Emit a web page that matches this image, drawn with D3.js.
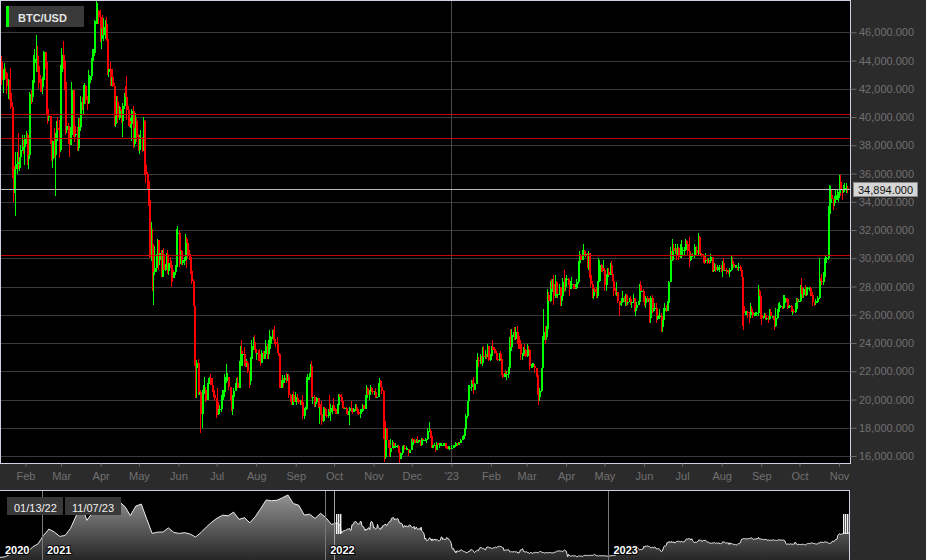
<!DOCTYPE html>
<html>
<head>
<meta charset="utf-8">
<script src="https://cdnjs.cloudflare.com/ajax/libs/d3/7.8.5/d3.min.js"></script>
<style>
	body { margin: 0; background: #2b2b2b; }
	svg { display: block; font-family: "Liberation Sans", Arial, sans-serif; }
</style>
</head>
<body>
<svg id="chart"></svg>
<script>
// daily BTC/USD, in thousands, from 2022-01-13 to 2023-11-07 (open = previous close)
const START_DAY = new Date(2022, 0, 13),
	FIRST_OPEN = 43.9;

const closeK = [
	42.6, 43.1, 43.2, 43.1, 42.2, 42.4, 41.7, 40.7, 36.5, 35.1, 36.3, 36.7, 37.0, 36.8, 37.2, 37.7, 38.2, 37.9, 38.5,
	38.7, 37.0, 37.3, 41.6, 41.4, 42.4, 43.8, 44.1, 44.3, 43.6, 42.4, 42.2, 42.1, 42.6, 44.6, 43.9, 40.6, 40.0, 40.1, 38.4, 37.0, 38.3, 37.3, 38.3, 39.2, 39.1, 37.7, 43.2,
	44.4, 44.0, 42.5, 39.1, 39.4, 38.4, 38.0, 38.7, 41.9, 39.4, 38.7, 38.8, 37.8, 39.7, 39.3, 41.1, 40.9, 41.8, 42.2, 41.2, 41.0, 42.4, 42.9, 44.0, 44.3, 44.5, 46.8, 47.1, 47.5, 47.1, 45.5,
	46.3, 45.8, 46.4, 46.6, 45.5, 43.2, 43.4, 42.3, 42.8, 42.2, 39.5, 40.1, 41.1, 39.9, 40.6, 40.4, 39.7, 40.8, 41.5, 41.4, 40.5, 39.7, 39.5, 39.5, 40.4, 38.1, 39.2, 39.7, 38.6, 37.7,
	38.5, 38.5, 37.7, 39.7, 36.6, 36.0, 35.5, 34.1, 30.1, 31.0, 29.0, 29.0, 29.3, 30.1, 31.3, 29.9, 30.4, 28.7, 30.3, 29.2, 29.4, 30.3, 29.1, 29.7, 29.5, 29.2, 28.6, 29.0, 29.4, 31.7, 31.8,
	29.8, 30.5, 29.7, 29.9, 29.9, 31.4, 31.1, 30.2, 30.1, 29.1, 28.4, 26.6, 22.5, 22.2, 22.6, 20.4, 20.5, 19.0, 20.6, 20.6, 20.7, 20.0, 21.1, 21.2, 21.5, 21.0, 20.7, 20.3, 20.1, 19.8,
	19.3, 19.3, 19.3, 20.2, 20.2, 20.5, 21.6, 21.6, 21.6, 20.9, 20.0, 19.3, 20.2, 20.6, 20.8, 21.2, 20.8, 22.4, 23.4, 23.2, 23.2, 22.7, 22.5, 22.6, 22.0, 21.3, 22.9, 23.8, 23.8, 23.6, 23.3,
	23.3, 23.0, 22.8, 22.6, 23.3, 23.0, 23.2, 23.8, 23.2, 23.9, 23.9, 24.4, 24.4, 24.3, 24.1, 23.9, 23.3, 23.2, 20.8, 21.2, 21.5, 21.4, 21.5, 21.4, 21.6, 20.3, 20.0, 19.6, 20.3, 19.8, 20.0,
	20.1, 20.0, 19.8, 20.0, 19.8, 18.8, 19.3, 19.3, 21.4, 21.6, 21.8, 22.4, 20.2, 20.2, 19.7, 19.8, 20.1, 19.4, 19.5, 19.0, 18.5, 19.4, 19.3, 18.9, 18.8, 19.2, 19.1, 19.4, 19.6, 19.4,
	19.3, 19.0, 19.6, 20.3, 20.2, 19.9, 19.5, 19.4, 19.4, 19.1, 19.0, 19.2, 19.4, 19.2, 19.1, 19.3, 19.5, 19.3, 19.1, 19.0, 19.2, 19.2, 19.6, 19.3, 20.1, 20.8, 20.3, 20.6, 20.8, 20.6, 20.5,
	20.5, 20.2, 20.2, 21.1, 21.3, 20.9, 20.6, 18.5, 15.9, 18.0, 17.1, 16.8, 16.3, 16.6, 16.9, 16.7, 16.7, 16.7, 16.7, 16.3, 15.8, 16.2, 16.6, 16.6, 16.5, 16.5, 16.5, 16.2, 16.4, 17.2,
	17.0, 17.1, 16.9, 17.1, 17.0, 17.1, 16.8, 17.2, 17.1, 17.1, 17.1, 17.2, 17.8, 17.8, 17.4, 16.6, 16.8, 16.8, 16.4, 16.9, 16.8, 16.8, 16.8, 16.8, 16.8, 16.9, 16.7, 16.5, 16.6, 16.6, 16.5,
	16.6, 16.7, 16.7, 16.9, 16.8, 17.0, 16.9, 17.1, 17.2, 17.4, 17.9, 18.8, 19.9, 20.9, 20.9, 21.2, 21.1, 20.7, 21.1, 22.7, 22.8, 22.7, 22.9, 22.6, 23.1, 23.0, 23.1, 23.0, 23.8, 22.8, 23.1,
	23.7, 23.5, 23.4, 23.3, 22.9, 22.8, 23.2, 22.9, 21.8, 21.6, 21.9, 21.8, 21.8, 22.2, 24.3, 23.7, 24.6, 24.6, 24.3, 24.8, 24.4, 24.2, 23.9, 23.2, 23.2, 23.6, 23.5, 23.1,
	23.6, 23.5, 22.4, 22.4, 22.4, 22.4, 22.2, 21.7, 20.4, 20.2, 20.6, 22.2, 24.2, 24.8, 24.4, 25.0, 27.4, 27.0, 28.0, 27.8, 28.2, 27.3, 28.3, 27.5, 27.5, 28.0, 27.1, 27.3, 28.3, 28.0, 28.5,
	28.5, 28.2, 27.8, 28.2, 28.2, 28.0, 27.9, 27.9, 28.3, 29.7, 30.2, 29.9, 30.4, 30.5, 30.3, 30.3, 29.4, 30.4, 28.8, 28.2, 27.3, 27.8, 27.6, 27.5, 28.3, 28.4, 29.5, 29.3, 29.2, 29.2,
	28.1, 28.7, 29.0, 28.8, 29.5, 28.9, 28.4, 27.7, 27.6, 27.6, 27.0, 26.8, 26.8, 26.9, 27.2, 27.0, 27.4, 26.8, 26.9, 27.1, 26.8, 26.9, 27.2, 26.3, 26.5, 26.7, 26.9, 28.1, 27.7, 27.7, 27.2,
	26.8, 27.2, 27.1, 27.1, 25.8, 27.2, 26.3, 26.5, 26.5, 25.9, 25.9, 25.9, 25.9, 25.1, 25.6, 26.3, 26.5, 26.3, 26.8, 28.3, 30.0, 29.9, 30.7, 30.5, 30.5, 30.3, 30.7, 30.1, 30.4, 30.5,
	30.6, 30.6, 31.2, 31.0, 30.5, 29.9, 30.3, 30.2, 30.2, 30.4, 30.6, 30.4, 31.5, 30.3, 30.3, 30.2, 30.1, 29.9, 29.9, 29.8, 29.9, 29.8, 30.1, 29.2, 29.2, 29.4, 29.2, 29.3, 29.3, 29.3, 29.2,
	29.7, 29.2, 29.2, 29.1, 29.1, 29.0, 29.2, 29.8, 29.6, 29.4, 29.4, 29.4, 29.3, 29.4, 29.2, 28.7, 26.6, 26.1, 26.2, 26.2, 26.1, 26.0, 26.4, 26.2, 26.0, 26.0, 26.1, 26.1, 27.7, 27.3, 26.0,
	25.8, 25.9, 26.0, 25.8, 25.8, 25.7, 26.2, 25.9, 25.9, 25.8, 25.2, 25.8, 26.2, 26.5, 26.6, 26.6, 26.5, 26.8, 27.2, 27.1, 26.6, 26.6, 26.6, 26.3, 26.3, 26.2, 26.4, 27.0, 26.9, 27.0,
	28.0, 27.5, 27.4, 27.8, 27.4, 27.9, 27.9, 27.9, 27.6, 27.4, 26.9, 26.8, 26.9, 26.9, 27.2, 28.5, 28.4, 28.3, 28.7, 29.7, 30.0, 30.0, 33.1, 33.9, 34.5, 34.2, 33.9, 34.1, 34.5, 34.5, 34.6,
	35.4, 34.9, 34.7, 35.0, 35.0, 35.0, 34.894
];

const highK = [
	44.3, 43.4, 43.8, 43.5, 43.2, 42.7, 42.6, 43.5, 41.1, 36.9, 36.5, 37.5, 37.5, 38.9, 37.2, 38.0, 38.7, 38.4, 38.7,
	39.0, 38.9, 37.4, 41.8, 41.9, 42.6, 44.4, 44.8, 45.8, 45.0, 43.9, 43.0, 42.7, 42.8, 44.7, 44.6, 44.2, 40.9, 40.4, 40.1, 39.4, 38.4, 39.2, 38.9, 39.7, 40.0, 39.8, 43.7,
	44.9, 45.4, 44.1, 42.5, 39.6, 39.6, 39.4, 39.3, 42.5, 41.9, 40.2, 39.3, 39.3, 39.9, 39.9, 41.5, 41.4, 42.3, 42.4, 42.3, 41.5, 43.3, 43.0, 44.2, 44.8, 44.8, 46.9, 48.2, 48.1, 47.6, 47.6,
	46.7, 47.2, 47.0, 46.9, 47.1, 45.5, 43.9, 43.9, 42.8, 43.4, 42.4, 40.7, 41.5, 41.5, 40.8, 40.7, 40.6, 41.0, 41.7, 42.2, 42.9, 40.8, 39.9, 39.9, 40.6, 40.8, 39.4, 40.3, 39.9, 38.8,
	38.7, 39.1, 38.6, 40.0, 39.8, 36.6, 36.1, 35.5, 34.2, 32.6, 32.1, 30.0, 30.9, 30.3, 31.4, 31.3, 30.7, 30.6, 30.6, 30.7, 29.6, 30.4, 30.6, 29.9, 30.1, 29.8, 29.3, 29.2, 29.5, 32.1, 32.3,
	31.9, 30.6, 30.6, 29.9, 30.1, 31.7, 31.5, 31.3, 30.6, 30.3, 29.4, 28.5, 26.9, 23.3, 22.8, 22.9, 21.3, 20.7, 20.7, 21.0, 21.6, 20.9, 21.2, 21.5, 21.6, 21.8, 21.5, 21.0, 20.4, 20.1,
	20.8, 19.4, 19.6, 20.3, 20.7, 20.7, 21.8, 22.5, 21.9, 21.6, 20.9, 20.0, 20.3, 20.8, 21.2, 21.5, 21.6, 22.7, 23.8, 24.2, 23.4, 23.7, 22.9, 22.9, 22.7, 22.0, 23.0, 24.2, 24.4, 24.6, 24.1,
	23.5, 23.5, 23.6, 23.2, 23.5, 23.4, 23.4, 24.2, 23.9, 24.2, 24.9, 24.5, 24.9, 25.0, 25.2, 24.2, 24.4, 23.6, 23.2, 21.4, 21.7, 21.5, 21.7, 21.9, 21.8, 21.8, 20.4, 20.1, 20.4, 20.6, 20.5,
	20.2, 20.4, 20.0, 20.0, 20.0, 20.3, 19.4, 19.5, 21.6, 21.8, 21.9, 22.5, 22.7, 20.5, 20.3, 19.9, 20.2, 20.1, 19.7, 19.7, 19.9, 19.5, 19.5, 19.3, 19.2, 19.3, 20.3, 19.7, 19.6, 20.1,
	19.5, 19.4, 19.7, 20.4, 20.4, 20.4, 20.0, 19.6, 19.5, 19.5, 19.2, 19.2, 19.5, 19.9, 19.2, 19.4, 19.7, 19.7, 19.3, 19.3, 19.3, 19.3, 19.7, 19.6, 20.3, 21.0, 20.9, 20.7, 21.0, 20.9, 20.8,
	20.6, 20.8, 20.4, 21.2, 21.5, 21.4, 21.0, 20.7, 18.6, 18.1, 18.0, 17.1, 16.9, 17.2, 17.1, 17.0, 16.9, 16.9, 16.8, 16.8, 16.3, 16.3, 16.7, 16.8, 16.8, 16.7, 16.6, 16.5, 16.5, 17.2,
	17.3, 17.1, 17.2, 17.2, 17.4, 17.1, 17.1, 17.3, 17.3, 17.2, 17.3, 17.2, 18.0, 18.4, 17.9, 17.5, 16.8, 16.9, 16.8, 17.0, 16.9, 16.9, 16.9, 16.9, 16.9, 16.9, 16.9, 16.8, 16.7, 16.7, 16.6,
	16.8, 16.8, 16.8, 17.0, 16.9, 17.0, 17.0, 17.2, 17.4, 17.5, 18.0, 19.0, 19.9, 21.0, 21.0, 21.4, 21.4, 21.6, 21.2, 22.8, 23.3, 23.0, 23.2, 23.1, 23.7, 23.8, 23.5, 23.2, 23.9, 23.8, 23.2,
	23.8, 24.2, 23.7, 23.6, 23.4, 23.1, 23.3, 23.4, 22.9, 21.9, 21.9, 22.1, 22.0, 22.3, 24.4, 25.0, 25.0, 24.8, 25.1, 25.1, 25.2, 24.5, 24.5, 24.0, 23.3, 23.7, 23.9, 23.6,
	23.9, 23.8, 23.5, 22.5, 22.6, 22.6, 22.5, 22.2, 21.8, 20.5, 20.8, 22.2, 24.5, 26.4, 25.2, 25.2, 27.8, 27.6, 28.4, 28.5, 28.5, 28.8, 28.8, 28.4, 27.8, 28.2, 28.0, 27.5, 28.6, 29.2, 28.6,
	28.8, 28.6, 28.4, 28.4, 28.7, 28.2, 28.1, 28.2, 28.5, 29.8, 30.5, 30.3, 30.6, 31.0, 30.6, 30.5, 30.4, 30.5, 30.4, 29.1, 28.4, 27.9, 27.9, 28.0, 28.4, 30.0, 29.9, 29.6, 29.4, 29.9,
	29.3, 28.9, 29.3, 29.3, 29.7, 29.8, 29.1, 28.6, 27.9, 28.3, 27.6, 26.9, 26.9, 27.2, 27.7, 27.3, 27.5, 27.5, 27.2, 27.2, 27.3, 27.1, 27.5, 27.2, 26.6, 26.9, 27.0, 28.2, 28.4, 28.0, 27.8,
	27.3, 27.3, 27.3, 27.2, 27.2, 27.3, 27.4, 26.8, 26.8, 26.8, 26.2, 26.0, 26.4, 26.1, 25.8, 26.5, 26.8, 26.7, 27.0, 28.4, 30.8, 30.5, 31.4, 31.0, 31.0, 30.7, 31.0, 30.8, 31.0, 31.3,
	30.8, 30.8, 31.4, 31.3, 31.0, 31.5, 30.4, 30.3, 30.4, 31.0, 30.8, 30.9, 31.8, 31.6, 30.4, 30.4, 30.3, 30.2, 30.4, 30.0, 30.0, 29.9, 30.3, 30.1, 29.3, 29.7, 29.6, 29.5, 29.4, 29.5, 29.5,
	29.8, 30.0, 29.4, 29.3, 29.2, 29.2, 29.3, 30.2, 30.1, 29.7, 29.5, 29.5, 29.4, 29.7, 29.5, 29.2, 28.8, 26.8, 26.3, 26.3, 26.3, 26.2, 26.8, 26.6, 26.3, 26.1, 26.2, 26.2, 28.1, 27.8, 27.5,
	26.1, 25.9, 26.1, 26.1, 25.9, 25.9, 26.4, 26.4, 25.9, 25.9, 25.9, 26.5, 26.4, 26.8, 26.9, 26.7, 26.6, 27.4, 27.4, 27.2, 27.1, 26.7, 26.7, 26.7, 26.4, 26.4, 26.8, 27.2, 27.2, 27.1,
	28.1, 28.6, 27.7, 27.9, 28.1, 28.0, 28.0, 28.0, 28.0, 27.7, 27.5, 26.9, 27.1, 27.0, 27.3, 30.0, 28.6, 28.9, 29.0, 30.0, 30.2, 30.1, 33.7, 35.2, 35.1, 34.8, 34.2, 34.4, 34.8, 34.8, 34.7,
	35.9, 35.9, 34.9, 35.2, 35.3, 35.3, 35.1
];

const lowK = [
	42.3, 41.7, 42.6, 42.7, 41.6, 41.3, 41.2, 40.6, 35.7, 34.0, 34.6, 33.0, 36.0, 36.3, 36.2, 36.4, 37.6, 37.4, 36.6,
	38.1, 36.6, 36.3, 37.0, 40.9, 41.1, 42.2, 42.7, 43.2, 43.2, 42.0, 41.8, 41.8, 41.6, 42.4, 43.4, 40.2, 39.5, 39.7, 38.1, 36.9, 36.4, 37.1, 34.4, 38.0, 38.6, 37.1, 37.5,
	43.0, 43.4, 41.9, 38.7, 38.9, 38.1, 37.2, 38.0, 38.7, 38.6, 38.2, 38.6, 37.6, 37.6, 38.5, 39.0, 40.5, 40.2, 41.6, 40.9, 40.5, 40.9, 41.9, 42.6, 43.7, 44.1, 44.4, 46.6, 46.6, 46.6, 45.3,
	44.8, 45.7, 45.4, 45.5, 45.4, 43.0, 42.8, 42.2, 42.2, 42.1, 39.4, 39.3, 39.8, 39.6, 39.8, 39.9, 39.6, 38.6, 40.6, 40.8, 39.8, 39.4, 39.3, 39.2, 38.3, 37.8, 37.9, 38.9, 38.2, 37.6,
	37.4, 37.7, 37.5, 37.6, 35.9, 35.3, 34.8, 33.7, 30.0, 29.8, 27.7, 26.7, 28.8, 29.0, 29.6, 29.2, 29.5, 28.7, 28.7, 28.8, 29.1, 29.3, 28.9, 28.8, 29.3, 28.0, 28.3, 28.6, 28.8, 29.4, 31.2,
	29.4, 29.6, 29.5, 29.5, 29.5, 29.9, 29.3, 30.0, 29.9, 28.9, 28.2, 26.6, 22.4, 20.1, 20.1, 20.3, 20.3, 17.6, 18.0, 19.7, 20.4, 19.8, 20.0, 20.9, 21.2, 21.0, 20.5, 20.2, 19.9, 18.7,
	18.9, 18.9, 19.0, 19.1, 19.3, 20.0, 20.3, 21.2, 21.3, 20.7, 19.9, 19.2, 18.9, 20.1, 20.6, 20.7, 20.8, 20.8, 22.0, 22.9, 22.4, 22.4, 22.3, 22.3, 21.9, 20.8, 21.0, 22.6, 23.5, 23.5, 23.3,
	22.8, 22.7, 22.7, 22.4, 22.6, 22.9, 22.9, 22.9, 22.9, 22.9, 23.8, 23.6, 24.3, 24.2, 23.9, 23.7, 23.3, 23.1, 20.8, 20.8, 20.9, 20.9, 21.2, 21.2, 21.3, 20.1, 19.8, 19.6, 19.6, 19.6, 19.8,
	19.6, 19.8, 19.7, 19.6, 19.6, 18.6, 18.6, 19.0, 19.3, 21.1, 21.4, 21.6, 20.1, 19.7, 19.5, 19.5, 19.7, 19.4, 18.3, 18.9, 18.2, 18.4, 18.8, 18.8, 18.7, 18.7, 19.0, 18.5, 19.0, 19.2,
	19.2, 19.0, 19.0, 19.5, 20.0, 19.8, 19.4, 19.3, 19.3, 19.0, 18.9, 18.9, 18.2, 19.1, 19.0, 19.1, 19.2, 19.2, 19.0, 18.9, 18.7, 19.1, 19.1, 19.2, 19.3, 20.0, 20.2, 20.0, 20.6, 20.5, 20.4,
	20.3, 20.1, 20.1, 20.2, 21.0, 20.9, 20.4, 17.2, 15.6, 15.8, 16.4, 16.6, 15.9, 15.9, 16.6, 16.5, 16.6, 16.6, 16.6, 16.2, 15.5, 15.8, 16.1, 16.5, 16.4, 16.4, 16.4, 16.0, 16.2, 16.4,
	16.8, 16.8, 16.9, 16.9, 16.9, 16.9, 16.7, 16.7, 17.1, 17.1, 17.1, 16.9, 17.1, 17.7, 17.3, 16.6, 16.6, 16.7, 16.3, 16.4, 16.8, 16.6, 16.8, 16.8, 16.8, 16.8, 16.6, 16.5, 16.5, 16.4, 16.5,
	16.5, 16.6, 16.6, 16.7, 16.7, 16.8, 16.9, 16.9, 17.1, 17.1, 17.3, 17.9, 18.7, 19.9, 20.6, 20.6, 20.9, 20.4, 20.7, 21.1, 22.4, 22.3, 22.5, 22.5, 22.4, 22.9, 22.9, 22.9, 23.0, 22.7, 22.7,
	22.8, 23.4, 23.2, 23.3, 22.8, 22.7, 22.7, 22.7, 21.7, 21.5, 21.6, 21.6, 21.4, 21.5, 22.1, 23.6, 23.4, 24.4, 24.2, 24.2, 23.9, 23.6, 23.6, 22.8, 22.8, 23.1, 23.1, 23.0,
	23.0, 23.3, 22.1, 22.2, 22.2, 22.3, 21.9, 21.6, 20.3, 19.6, 19.9, 20.5, 21.9, 24.1, 23.9, 24.2, 25.0, 26.8, 26.9, 27.1, 27.6, 26.7, 27.2, 27.2, 27.2, 27.4, 26.6, 26.6, 27.0, 27.6, 27.7,
	28.2, 28.1, 27.3, 27.8, 28.0, 27.8, 27.8, 27.9, 27.9, 28.2, 29.6, 29.7, 29.9, 30.0, 30.2, 30.1, 29.3, 29.2, 28.6, 28.0, 27.2, 27.1, 27.3, 27.2, 27.2, 27.3, 28.4, 29.0, 29.0, 29.1,
	27.7, 27.7, 28.1, 28.7, 28.8, 28.8, 28.4, 27.3, 27.4, 27.3, 26.8, 25.9, 26.7, 26.6, 26.9, 26.9, 26.6, 26.6, 26.7, 26.9, 26.7, 26.5, 26.8, 26.2, 25.9, 26.4, 26.7, 26.9, 27.6, 27.6, 26.9,
	26.6, 26.5, 26.9, 26.9, 25.4, 25.4, 26.1, 26.2, 26.3, 25.4, 25.6, 25.7, 25.7, 24.8, 24.8, 25.2, 26.2, 26.2, 26.3, 26.7, 28.3, 29.6, 29.8, 30.3, 30.3, 29.9, 30.2, 29.9, 30.0, 30.0,
	30.2, 30.2, 30.5, 30.6, 30.2, 29.4, 29.8, 30.0, 30.1, 30.0, 30.3, 30.2, 30.2, 30.3, 30.2, 30.1, 29.7, 29.6, 29.7, 29.6, 29.7, 29.6, 29.7, 29.0, 29.0, 29.2, 29.0, 29.1, 29.2, 29.0, 29.0,
	28.7, 29.1, 29.1, 28.9, 29.0, 28.9, 28.7, 29.1, 29.4, 29.3, 29.3, 29.4, 29.2, 29.1, 29.1, 28.7, 25.2, 24.9, 26.0, 26.0, 25.8, 25.4, 25.8, 26.0, 25.8, 25.9, 25.9, 25.9, 25.9, 27.1, 25.7,
	25.3, 25.7, 25.8, 25.6, 25.6, 25.4, 25.6, 25.7, 25.8, 25.6, 24.9, 25.1, 25.7, 26.1, 26.2, 26.5, 26.4, 26.4, 26.7, 26.9, 26.4, 26.5, 26.5, 26.2, 26.0, 26.1, 26.1, 26.2, 26.7, 26.9,
	26.9, 27.3, 27.2, 27.2, 27.3, 27.3, 27.8, 27.7, 27.3, 27.3, 26.6, 26.6, 26.7, 26.8, 26.8, 27.1, 28.1, 28.1, 28.1, 28.6, 29.5, 29.7, 29.9, 32.9, 33.8, 33.9, 33.4, 33.7, 34.0, 34.1, 34.0,
	34.3, 34.4, 34.1, 34.6, 34.8, 34.6, 34.6
];

// horizontal level lines (thousands)
const levelsK = [40.25, 38.55, 30.2];

// navigator: weekly closes from 2020-11-08 to 2022-01-09, then the daily closes above
const NAV_START = new Date(2020, 10, 8),
	NAV_END = new Date(2023, 10, 7);
const navWeeklyK = [
	15.5, 16.0, 18.4, 18.2, 19.2, 19.2, 23.9, 26.3,
	33.0, 38.2, 35.8, 32.3, 33.1, 38.9, 48.7, 57.5, 45.2, 51.2, 59.3, 57.5, 55.8, 58.8, 60.0, 56.2, 49.0, 56.6, 58.2, 46.4, 34.7, 35.7, 35.8, 39.1, 35.5, 34.7,
	35.3, 34.2, 31.8, 35.4, 39.9, 43.8, 47.0, 49.3, 48.8, 51.8, 46.0, 47.3, 43.2, 48.2, 54.7, 61.5, 60.9, 61.3, 63.3, 65.5, 58.6, 57.3, 49.4, 50.1, 46.7, 50.8,
	47.3, 41.9
];
const navYears = ["2020", "2021", "2022", "2023"];
const rangeLabels = ["01/13/22", "11/07/23"];

const monthLabels = ["Feb", "Mar", "Apr", "May", "Jun", "Jul", "Aug", "Sep", "Oct", "Nov", "Dec", "'23",
	"Feb", "Mar", "Apr", "May", "Jun", "Jul", "Aug", "Sep", "Oct", "Nov"];
const yTicksK = d3.range(16, 46.1, 2);

const W = 926, H = 560,
	plotW = 850, plotH = 463;

const bars = closeK.map((c, i) => ({
	date: d3.timeHour.offset(d3.timeDay.offset(START_DAY, i), 12),
	open: i ? closeK[i - 1] : FIRST_OPEN,
	high: highK[i],
	low: lowK[i],
	close: c
}));

const x = d3.scaleTime()
	.domain([new Date(2022, 0, 12, 2), new Date(2023, 10, 9, 15)])
	.range([0, plotW]);
const y = d3.scaleLinear()
	.domain([16, 46])
	.range([456, 32.3]);

const svg = d3.select('#chart')
	.attr('width', W)
	.attr('height', H);

svg.append('rect')
	.attr('width', W).attr('height', H)
	.attr('fill', '#2b2b2b');

svg.append('defs').append('clipPath')
	.attr('id', 'plotclip')
	.append('rect')
	.attr('x', 0).attr('y', 0)
	.attr('width', plotW).attr('height', plotH);

const plot = svg.append('g');
plot.append('rect')
	.attr('width', plotW).attr('height', plotH)
	.attr('fill', '#000');

// grid
plot.selectAll('line.grid')
	.data(yTicksK)
	.enter().append('line')
	.classed('grid', true)
	.attr('x1', 0).attr('x2', plotW)
	.attr('y1', d => Math.round(y(d)) + 0.5)
	.attr('y2', d => Math.round(y(d)) + 0.5)
	.attr('stroke', '#3a3a3a');

// year separator
const x23 = Math.round(x(new Date(2023, 0, 1))) + 0.5;
plot.append('line')
	.attr('x1', x23).attr('x2', x23)
	.attr('y1', 0).attr('y2', plotH)
	.attr('stroke', '#4a4a4a');

// candles
const candles = plot.append('g').attr('clip-path', 'url(#plotclip)');
const colorOf = d => d.close >= d.open ? '#00ff00' : '#ff0000';

candles.selectAll('rect.wick')
	.data(bars)
	.enter().append('rect')
	.classed('wick', true)
	.attr('x', d => Math.floor(x(d.date)))
	.attr('width', 1)
	.attr('y', d => y(d.high))
	.attr('height', d => Math.max(1, y(d.low) - y(d.high)))
	.attr('fill', colorOf)
	.attr('shape-rendering', 'crispEdges');

candles.selectAll('rect.body')
	.data(bars)
	.enter().append('rect')
	.classed('body', true)
	.attr('x', d => Math.floor(x(d.date)) - 0.5)
	.attr('width', 2)
	.attr('y', d => y(Math.max(d.open, d.close)))
	.attr('height', d => Math.max(1, Math.abs(y(d.open) - y(d.close))))
	.attr('fill', colorOf)
	.attr('shape-rendering', 'crispEdges');

// level lines
plot.selectAll('line.level')
	.data(levelsK)
	.enter().append('line')
	.classed('level', true)
	.attr('x1', 0).attr('x2', plotW)
	.attr('y1', d => Math.round(y(d)) + 0.5)
	.attr('y2', d => Math.round(y(d)) + 0.5)
	.attr('stroke', '#c40000');

// last price line
const last = bars[bars.length - 1].close,
	yLast = Math.round(y(last)) + 0.5;
plot.append('line')
	.attr('x1', 0).attr('x2', plotW)
	.attr('y1', yLast).attr('y2', yLast)
	.attr('stroke', '#b8b8b8');

// border
svg.append('rect')
	.attr('x', 0.5).attr('y', 0.5)
	.attr('width', plotW).attr('height', plotH)
	.attr('fill', 'none')
	.attr('stroke', '#cdd1e2');

// x axis
const monthDates = d3.timeMonth.range(new Date(2022, 1, 1), new Date(2023, 10, 2));
const xAxis = svg.append('g')
	.attr('transform', `translate(0,${plotH + 0.5})`)
	.call(d3.axisBottom(x)
		.tickValues(monthDates)
		.tickFormat((d, i) => monthLabels[i])
		.tickSize(3)
		.tickPadding(6));
xAxis.select('.domain').remove();
xAxis.selectAll('line').attr('stroke', '#6a6a6a');
xAxis.selectAll('text')
	.attr('fill', '#707070')
	.style('font-size', '11px')
	.style('font-family', '"Liberation Sans", Arial, sans-serif');

// y axis
const yAxis = svg.append('g')
	.attr('transform', `translate(${plotW + 0.5},0)`)
	.call(d3.axisRight(y)
		.tickValues(yTicksK)
		.tickFormat(d => d3.format(',.3f')(d * 1000))
		.tickSize(6)
		.tickPadding(2.5));
yAxis.select('.domain').remove();
yAxis.selectAll('line').attr('stroke', '#6a6a6a');
yAxis.selectAll('text')
	.attr('fill', '#707070')
	.style('font-size', '11px')
	.style('font-family', '"Liberation Sans", Arial, sans-serif');

// last price box
svg.append('rect')
	.attr('x', 853.5).attr('y', yLast - 7)
	.attr('width', 64).attr('height', 14)
	.attr('fill', '#d6d6d6')
	.attr('stroke', '#8a8a8a');
svg.append('text')
	.attr('x', 858).attr('y', yLast + 4)
	.attr('fill', '#111')
	.style('font-size', '11px')
	.text(d3.format(',.3f')(last * 1000));

// symbol label
svg.append('rect')
	.attr('x', 6).attr('y', 6)
	.attr('width', 78).attr('height', 21)
	.attr('fill', '#3a3a3a');
svg.append('rect')
	.attr('x', 6).attr('y', 6)
	.attr('width', 3).attr('height', 21)
	.attr('fill', '#00ff00');
svg.append('text')
	.attr('x', 18).attr('y', 21.5)
	.attr('fill', '#e4e4e4')
	.style('font-size', '11px')
	.style('font-weight', 'bold')
	.text('BTC/USD');

// navigator
const navTop = 490, navW = 849;
const navData = navWeeklyK.map((v, i) => ({date: d3.timeDay.offset(NAV_START, 7 * i), v}))
	.concat(bars.map(d => ({date: d.date, v: d.close})));

const nx = d3.scaleTime().domain([NAV_START, NAV_END]).range([0, navW]);
const ny = d3.scaleLinear().domain([0, 69.5]).range([576.7, navTop]);

const defs = svg.select('defs');
defs.append('clipPath')
	.attr('id', 'navclip')
	.append('rect')
	.attr('x', 0).attr('y', navTop)
	.attr('width', navW).attr('height', H - navTop);
const grad = defs.append('linearGradient')
	.attr('id', 'navgrad')
	.attr('gradientUnits', 'userSpaceOnUse')
	.attr('x1', 0).attr('x2', 0)
	.attr('y1', navTop).attr('y2', H);
grad.append('stop').attr('offset', 0).attr('stop-color', '#9a9a9a');
grad.append('stop').attr('offset', 1).attr('stop-color', '#262626');

const nav = svg.append('g');
nav.append('rect')
	.attr('x', 0).attr('y', navTop)
	.attr('width', navW).attr('height', H - navTop)
	.attr('fill', '#000');

const navG = nav.append('g').attr('clip-path', 'url(#navclip)');
navG.append('path')
	.datum(navData)
	.attr('fill', 'url(#navgrad)')
	.attr('d', d3.area().x(d => nx(d.date)).y0(H + 20).y1(d => ny(d.v)));
navG.append('path')
	.datum(navData)
	.attr('fill', 'none')
	.attr('stroke', '#ececec')
	.attr('stroke-width', 1)
	.attr('d', d3.line().x(d => nx(d.date)).y(d => ny(d.v)));

// year lines and labels
const yearStarts = navYears.map(s => new Date(+s, 0, 1));
navG.selectAll('line.year')
	.data(yearStarts.filter(d => nx(d) > 0))
	.enter().append('line')
	.classed('year', true)
	.attr('x1', d => Math.round(nx(d)) + 0.5)
	.attr('x2', d => Math.round(nx(d)) + 0.5)
	.attr('y1', navTop).attr('y2', H)
	.attr('stroke', '#7a7a7a');

// selection edge
const selX = Math.round(nx(START_DAY)) + 0.5;
navG.append('line')
	.attr('x1', selX).attr('x2', selX)
	.attr('y1', navTop).attr('y2', H)
	.attr('stroke', '#a0a0a0');

navG.selectAll('text.year')
	.data(navYears)
	.enter().append('text')
	.classed('year', true)
	.attr('x', (d, i) => Math.max(5, nx(yearStarts[i]) + 5))
	.attr('y', 554)
	.attr('fill', '#fff')
	.attr('stroke', '#000')
	.attr('stroke-width', 2)
	.attr('paint-order', 'stroke')
	.style('font-size', '11px')
	.style('font-weight', 'bold')
	.text(d => d);

// handles
[selX + 1.5, navW - 6].forEach(hx => {
	[0, 2, 4].forEach(o => {
		nav.append('rect')
			.attr('x', hx + o).attr('y', 514)
			.attr('width', 1.4).attr('height', 20)
			.attr('fill', '#f2f2f2');
	});
});

// range labels
const rangeBoxes = [{x: 7, w: 56}, {x: 65, w: 56}];
rangeLabels.forEach((t, i) => {
	nav.append('rect')
		.attr('x', rangeBoxes[i].x).attr('y', 497)
		.attr('width', rangeBoxes[i].w).attr('height', 18)
		.attr('fill', '#383838');
	nav.append('text')
		.attr('x', rangeBoxes[i].x + 7).attr('y', 511.5)
		.attr('fill', '#f0f0f0')
		.style('font-size', '11px')
		.text(t);
});

// navigator border
nav.append('line')
	.attr('x1', 0).attr('x2', navW + 1)
	.attr('y1', navTop + 0.5).attr('y2', navTop + 0.5)
	.attr('stroke', '#cdd1e2');
nav.append('line')
	.attr('x1', navW + 0.5).attr('x2', navW + 0.5)
	.attr('y1', navTop).attr('y2', H)
	.attr('stroke', '#cdd1e2');
</script>
</body>
</html>
